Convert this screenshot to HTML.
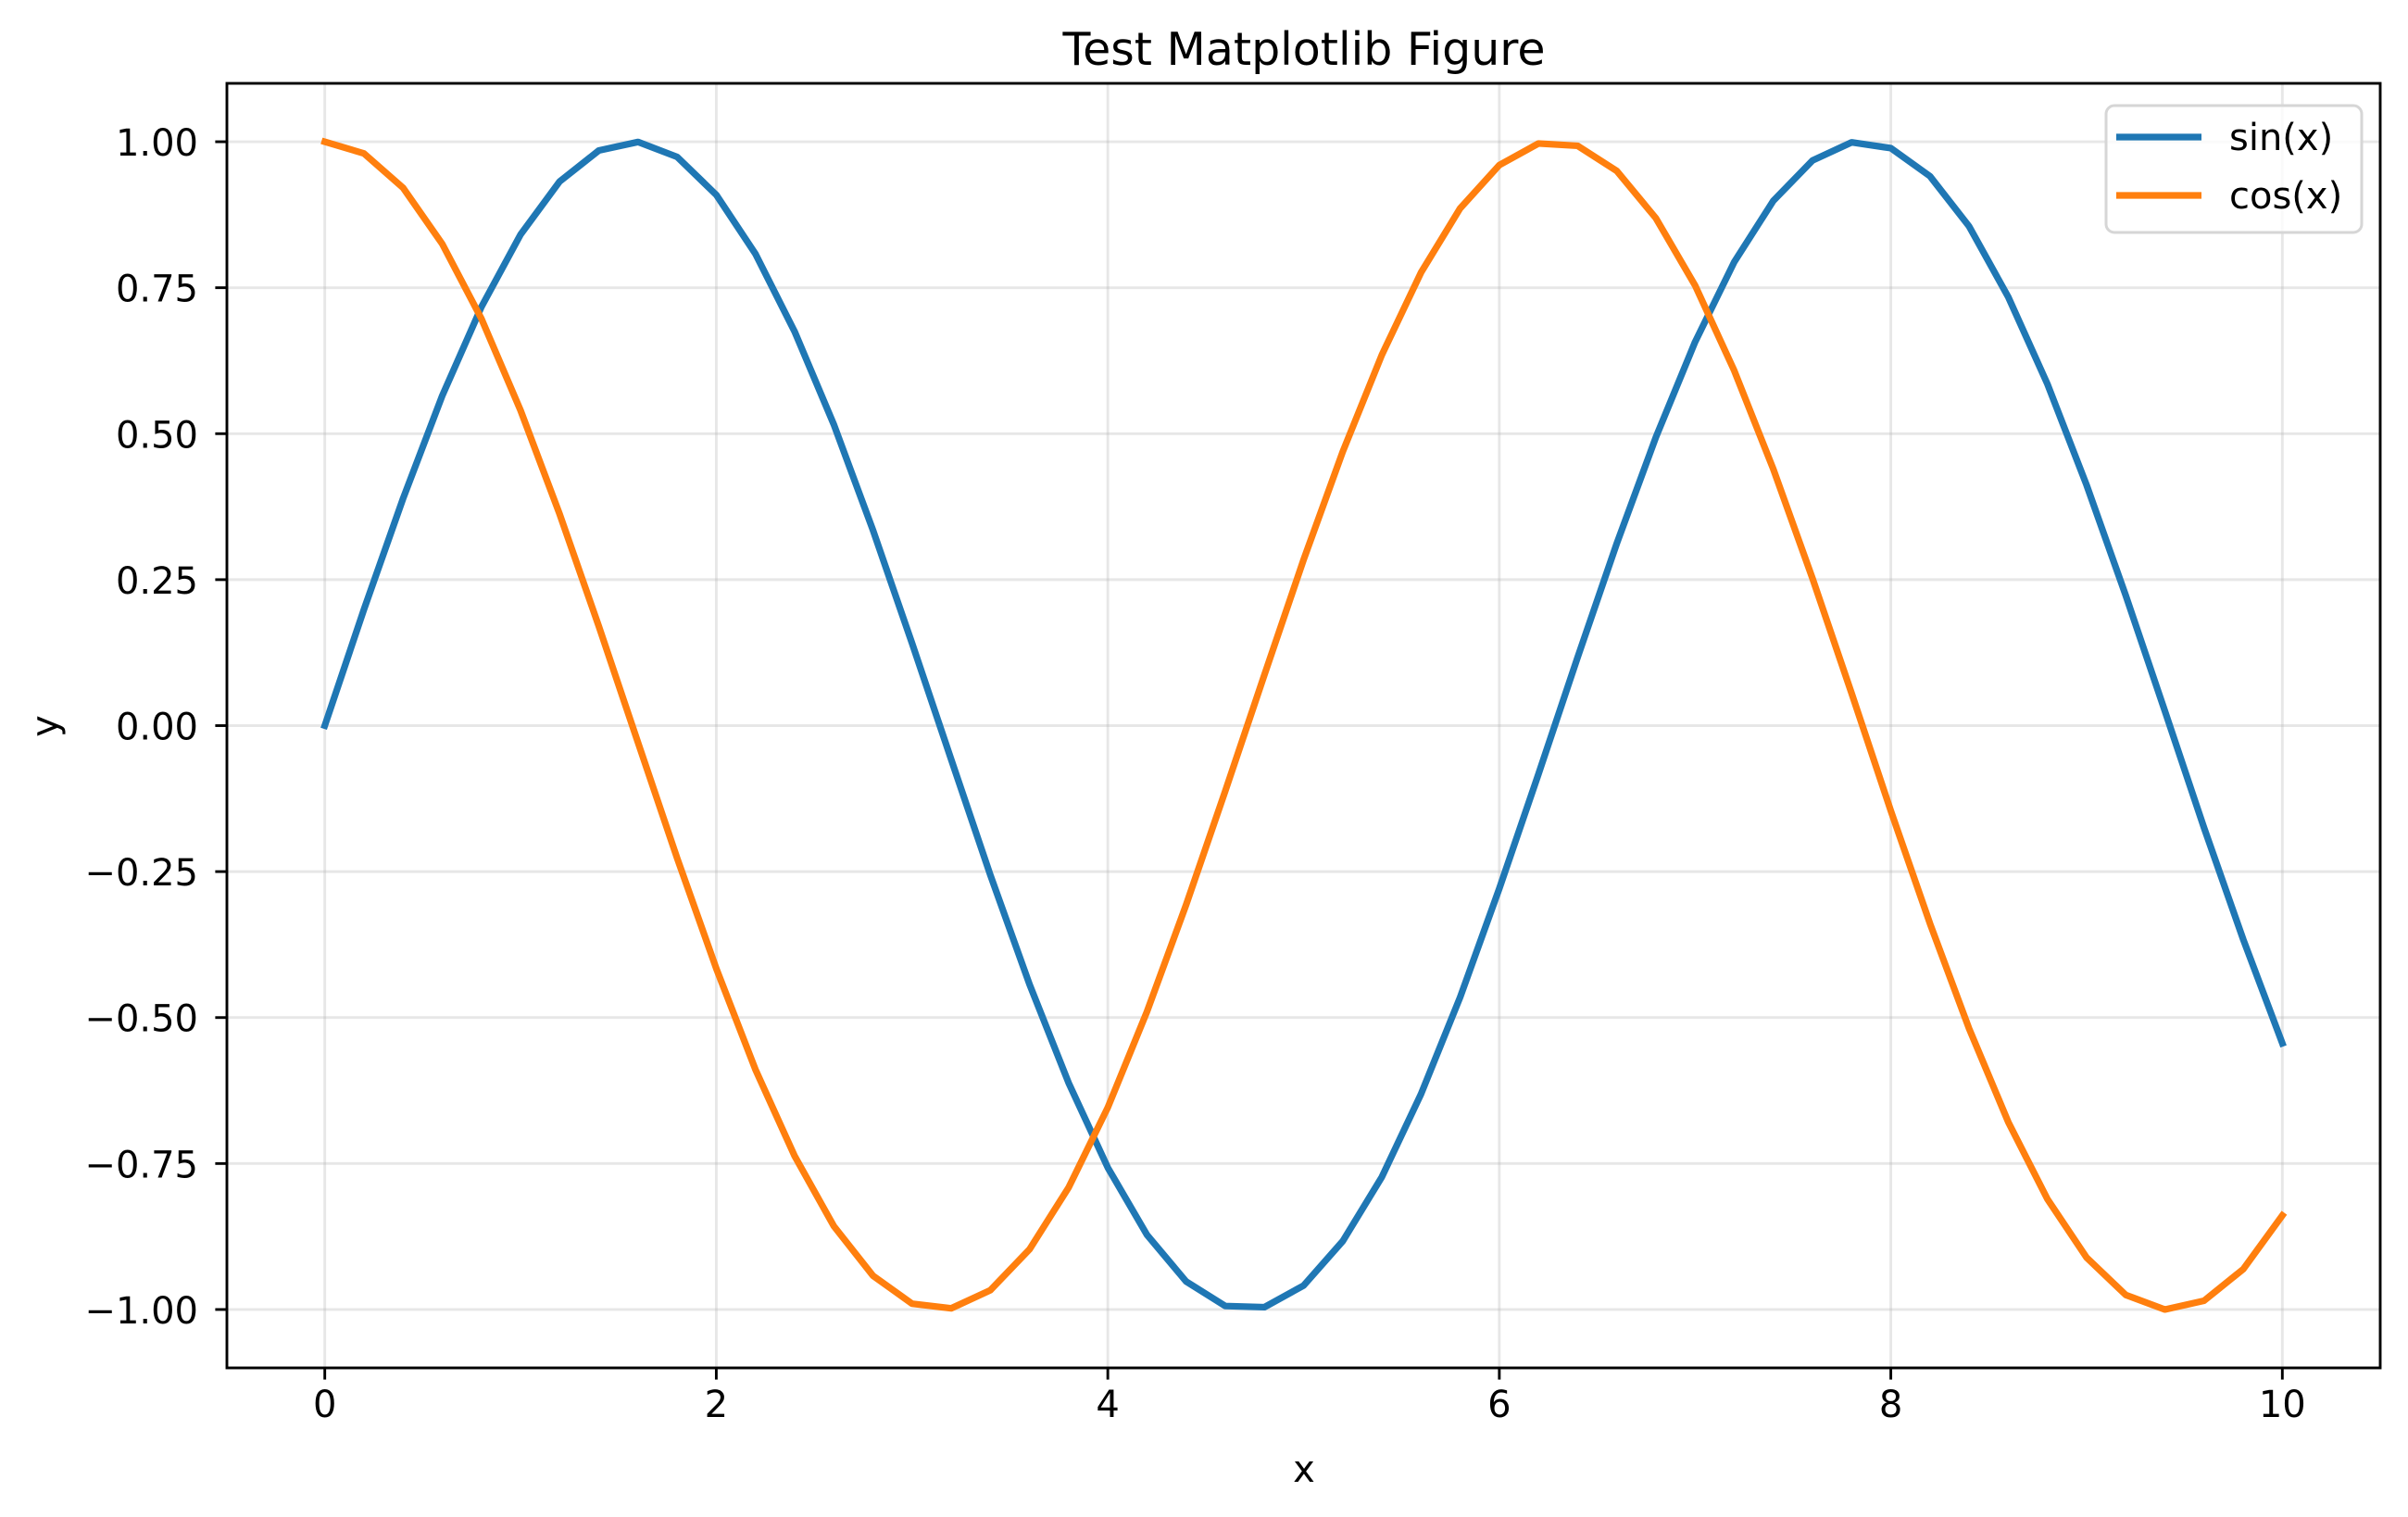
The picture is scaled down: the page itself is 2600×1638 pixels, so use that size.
<!DOCTYPE html>
<html><head><meta charset="utf-8"><style>
html,body{margin:0;padding:0;background:#fff;}
svg{display:block;font-family:"DejaVu Sans","Liberation Sans",sans-serif;}
</style></head><body>
<svg id="chart" width="2600" height="1638" viewBox="0 0 2600 1638">
<rect width="2600" height="1638" fill="#fff"/>
<g id="grid"></g>
<g id="series"></g>
<rect x="245" y="90" width="2325" height="1387" fill="none" stroke="#000" stroke-width="2.9"/>
<g id="xticks"></g>
<g id="yticks"></g>
<text x="1408" y="70" font-size="49" text-anchor="middle">Test Matplotlib Figure</text>
<text x="1408" y="1600" font-size="40" text-anchor="middle">x</text>
<text x="0" y="0" font-size="40" text-anchor="middle" transform="translate(62,784) rotate(-90)">y</text>
<g>
<rect x="2274" y="114" width="276" height="137" rx="9" fill="#fff" fill-opacity="0.8" stroke="#d6d6d6" stroke-width="3"/>
<g>
<line x1="2285" y1="148" x2="2377" y2="148" stroke="#1f77b4" stroke-width="7.2"/>
<text x="2407" y="162" font-size="40">sin(x)</text>
</g>
<g>
<line x1="2285" y1="211" x2="2377" y2="211" stroke="#ff7f0e" stroke-width="7.2"/>
<text x="2407" y="225" font-size="40">cos(x)</text>
</g>
</g>
</svg>
<script>
const xValues = [0,0.2,0.4,0.6,0.8,1.0,1.2,1.4,1.6,1.8,2.0,2.2,2.4,2.6,2.8,3.0,3.2,3.4,3.6,3.8,4.0,4.2,4.4,4.6,4.8,5.0,5.2,5.4,5.6,5.8,6.0,6.2,6.4,6.6,6.8,7.0,7.2,7.4,7.6,7.8,8.0,8.2,8.4,8.6,8.8,9.0,9.2,9.4,9.6,9.8,10];
const sinValues = [0,.199,.389,.565,.717,.841,.932,.985,.9996,.974,.909,.808,.675,.516,.335,.141,-.058,-.256,-.443,-.612,-.757,-.872,-.952,-.994,-.996,-.959,-.883,-.773,-.631,-.465,-.279,-.083,.117,.312,.494,.657,.794,.899,.968,.999,.989,.941,.855,.734,.585,.412,.223,.025,-.175,-.366,-.544];
const cosValues = [1,.980,.921,.825,.697,.540,.362,.170,-.029,-.227,-.416,-.589,-.737,-.857,-.942,-.990,-.998,-.967,-.897,-.791,-.654,-.490,-.307,-.112,.087,.284,.469,.635,.776,.886,.960,.997,.993,.950,.869,.754,.608,.439,.252,.055,-.146,-.339,-.519,-.679,-.811,-.911,-.975,-1.000,-.985,-.931,-.839];
const xTicks = [0,2,4,6,8,10];
const xTickLabels = ["0","2","4","6","8","10"];
const yTicks = [1,0.75,0.5,0.25,0,-0.25,-0.5,-0.75,-1];
const yTickLabels = ["1.00","0.75","0.50","0.25","0.00","\u22120.25","\u22120.50","\u22120.75","\u22121.00"];

const L=245,R=2570,T=90,B=1477;
const xMin=-0.5,xMax=10.5,yMin=-1.1,yMax=1.1;
const sx=v=>L+(v-xMin)/(xMax-xMin)*(R-L);
const sy=v=>B-(v-yMin)/(yMax-yMin)*(B-T);
const NS="http://www.w3.org/2000/svg";
function mk(tag,attrs,parent){const e=document.createElementNS(NS,tag);for(const k in attrs)e.setAttribute(k,attrs[k]);parent.appendChild(e);return e;}
const grid=document.getElementById('grid'),xt=document.getElementById('xticks'),yt=document.getElementById('yticks'),ser=document.getElementById('series');
xTicks.forEach((v,i)=>{
  const g=mk('line',{x1:sx(v),x2:sx(v),y1:T,y2:B,stroke:'#b0b0b0','stroke-opacity':0.3,'stroke-width':2.9},grid);
  
  
  const t=mk('line',{x1:sx(v),x2:sx(v),y1:B,y2:B+12.6,stroke:'#000','stroke-width':2.9},xt);
  
  
  const l=mk('text',{x:sx(v),y:B+53,'font-size':40,'text-anchor':'middle'},xt);
  l.textContent=xTickLabels[i];
  
  
});
yTicks.forEach((v,i)=>{
  const g=mk('line',{x1:L,x2:R,y1:sy(v),y2:sy(v),stroke:'#b0b0b0','stroke-opacity':0.3,'stroke-width':2.9},grid);
  
  
  const t=mk('line',{x1:L-12.6,x2:L,y1:sy(v),y2:sy(v),stroke:'#000','stroke-width':2.9},yt);
  
  
  const l=mk('text',{x:L-31,y:sy(v)+15,'font-size':40,'text-anchor':'end'},yt);
  l.textContent=yTickLabels[i];
  
  
});
function series(vals,color,name){
  const p=mk('polyline',{points:xValues.map((x,i)=>sx(x)+','+sy(vals[i])).join(' '),fill:'none',stroke:color,'stroke-width':7.2,'stroke-linejoin':'round','stroke-linecap':'square'},ser);
  
  
}
series(sinValues,'#1f77b4','sin-line');
series(cosValues,'#ff7f0e','cos-line');
</script>
</body></html>
